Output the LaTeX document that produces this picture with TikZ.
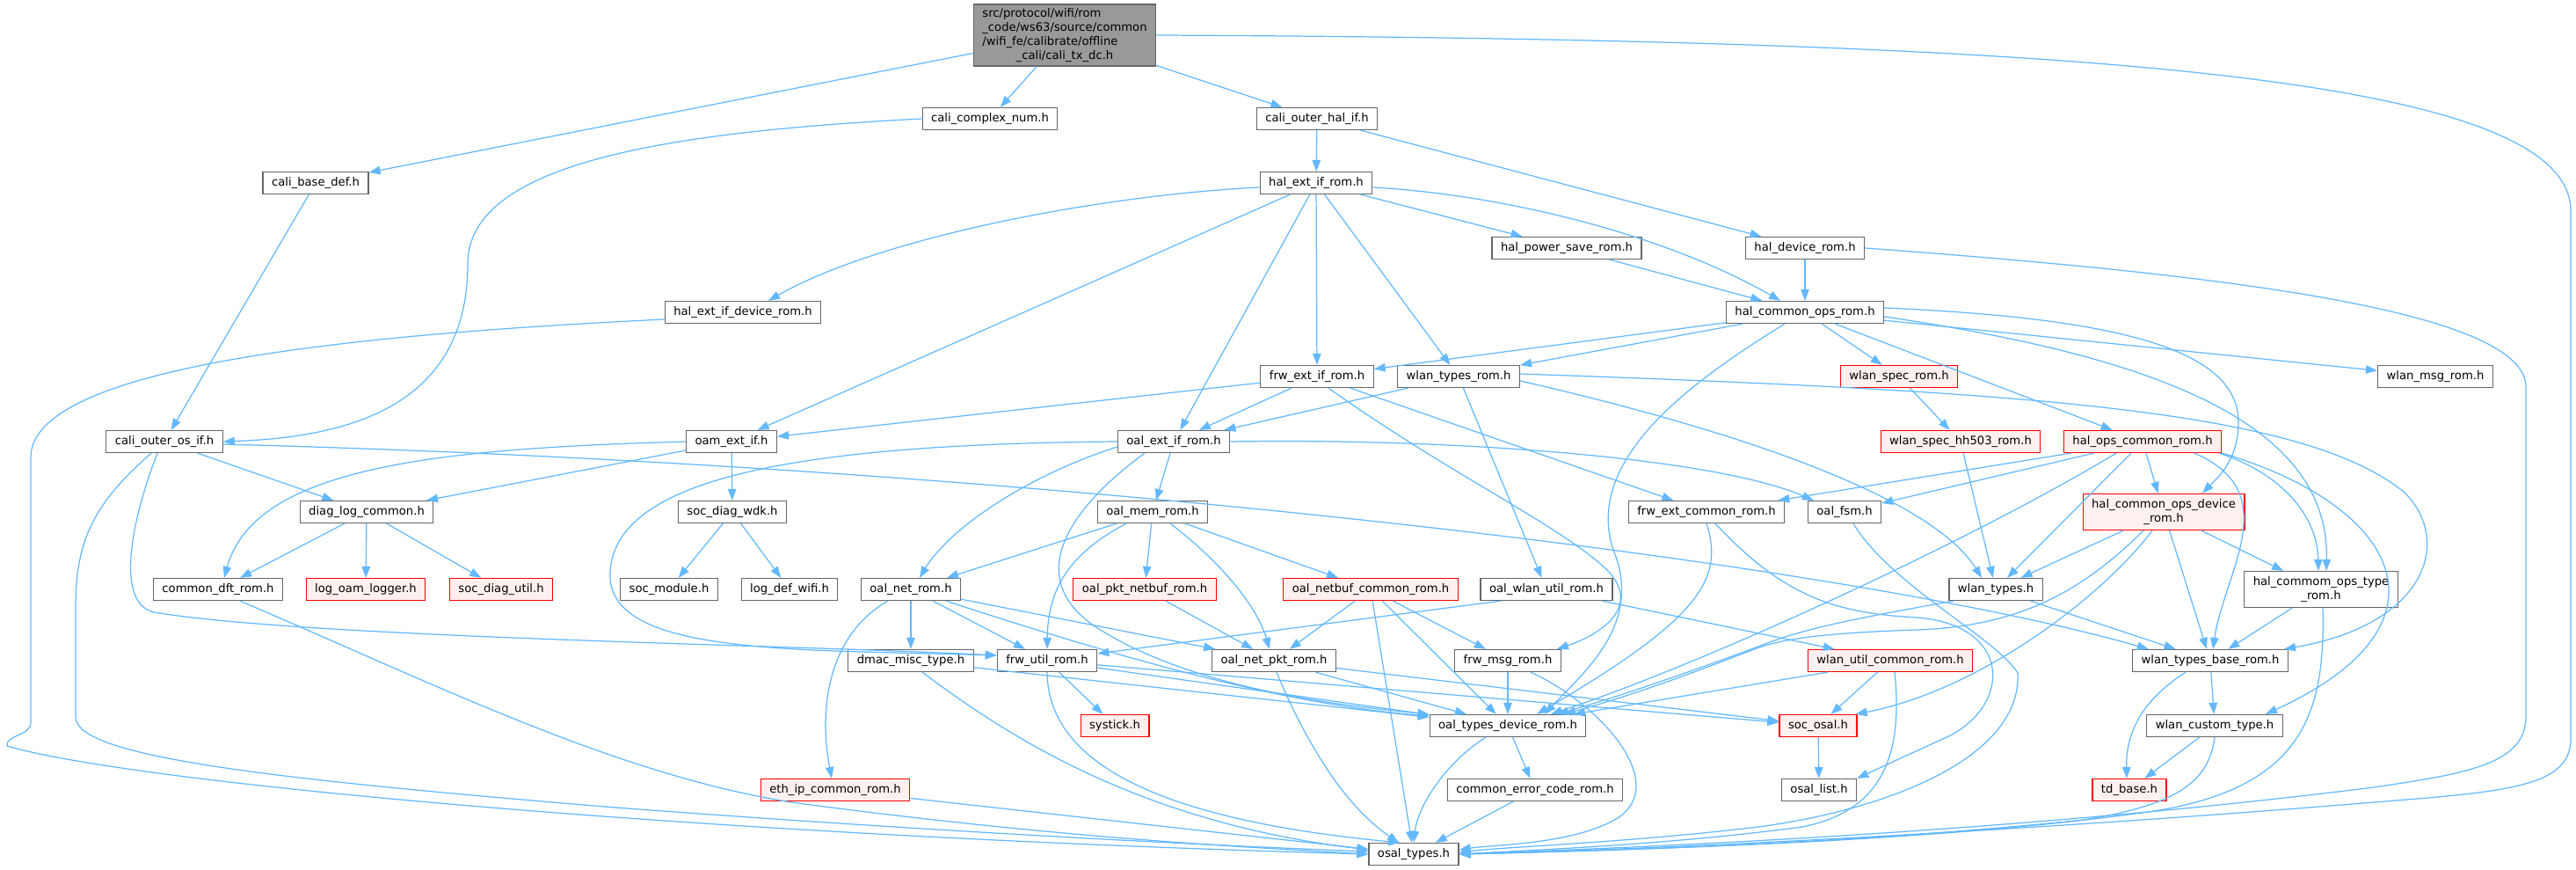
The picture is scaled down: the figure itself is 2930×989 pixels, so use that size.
\documentclass[tikz,border=0pt]{standalone}
\usepackage{fontspec}
\setmainfont{DejaVu Sans}
\usetikzlibrary{arrows.meta}
\definecolor{inclblue}{HTML}{63B8FF}
\definecolor{boxgray}{HTML}{666666}
\definecolor{rootfill}{HTML}{999999}
\definecolor{redfill}{HTML}{FFF0F0}
\tikzset{
  hdr/.style={draw=boxgray, fill=white, line width=0.7pt, inner xsep=0.2cm, inner ysep=0.06cm, minimum height=0.5cm, font=\fontsize{7.5pt}{9.1pt}\selectfont},
  hdrred/.style={hdr, draw=red, fill=redfill},
  hdrroot/.style={hdr, fill=rootfill},
  incl/.style={draw=inclblue, line width=0.7pt, -{Triangle[length=0.26cm,width=0.19cm]}}
}

\begin{document}
\begin{tikzpicture}[x=0.02cm, y=-0.02cm]
			%%%%% START %%%%%
			\useasboundingbox (0,0) rectangle (2930,989);
			
			\node[hdrroot] (root) at (1211,40) {\begin{tabular}{@{}l@{}}src/protocol/wifi/rom\\\_code/ws63/source/common\\/wifi\_fe/calibrate/offline\\\multicolumn{1}{@{}c@{}}{\_cali/cali\_tx\_dc.h}\end{tabular}};
			
			\node[hdr] (basedef) at (359,208) {cali\_base\_def.h};
			\node[hdr] (complexnum) at (1126,135) {cali\_complex\_num.h};
			\node[hdr] (outerhal) at (1498,135) {cali\_outer\_hal\_if.h};
			\node[hdr] (outeros) at (187,502) {cali\_outer\_os\_if.h};
			\node[hdr] (halext) at (1497,208) {hal\_ext\_if\_rom.h};
			\node[hdr] (halps) at (1782,282) {hal\_power\_save\_rom.h};
			\node[hdr] (haldev) at (2053,282) {hal\_device\_rom.h};
			\node[hdr] (halextdev) at (845,355) {hal\_ext\_if\_device\_rom.h};
			\node[hdr] (halcommon) at (2053,355) {hal\_common\_ops\_rom.h};
			\node[hdr] (frwext) at (1498,428) {frw\_ext\_if\_rom.h};
			\node[hdr] (wlantypesrom) at (1659,428) {wlan\_types\_rom.h};
			\node[hdrred] (wlanspec) at (2160,428) {wlan\_spec\_rom.h};
			\node[hdr] (wlanmsg) at (2770,428) {wlan\_msg\_rom.h};
			\node[hdr] (oamext) at (832,502) {oam\_ext\_if.h};
			\node[hdr] (oalext) at (1335,502) {oal\_ext\_if\_rom.h};
			\node[hdrred] (spechh) at (2230,502) {wlan\_spec\_hh503\_rom.h};
			\node[hdrred] (halops) at (2437,502) {hal\_ops\_common\_rom.h};
			\node[hdr] (diaglog) at (417,582) {diag\_log\_common.h};
			\node[hdr] (socwdk) at (833,582) {soc\_diag\_wdk.h};
			\node[hdr] (oalmem) at (1311,582) {oal\_mem\_rom.h};
			\node[hdr] (frwextcommon) at (1941,582) {frw\_ext\_common\_rom.h};
			\node[hdr] (oalfsm) at (2098,582) {oal\_fsm.h};
			\node[hdrred, minimum height=0.82cm, align=center] (halopsdev) at (2461,582) {hal\_common\_ops\_device\\\_rom.h};
			\node[hdr] (dftrom) at (248,670) {common\_dft\_rom.h};
			\node[hdrred] (oamlogger) at (416,670) {log\_oam\_logger.h};
			\node[hdrred] (socdiagutil) at (570,670) {soc\_diag\_util.h};
			\node[hdr] (socmodule) at (761,670) {soc\_module.h};
			\node[hdr] (logdefwifi) at (898,670) {log\_def\_wifi.h};
			\node[hdr] (oalnet) at (1036,670) {oal\_net\_rom.h};
			\node[hdrred] (oalpktnetbuf) at (1302,670) {oal\_pkt\_netbuf\_rom.h};
			\node[hdrred] (oalnetbuf) at (1559,670) {oal\_netbuf\_common\_rom.h};
			\node[hdr] (oalwlanutil) at (1759,670) {oal\_wlan\_util\_rom.h};
			\node[hdr] (wlantypes) at (2270,670) {wlan\_types.h};
			\node[hdr, minimum height=0.82cm, align=center] (halopstype) at (2640,670) {hal\_commom\_ops\_type\\\_rom.h};
			\node[hdr] (dmacmisc) at (1036,751) {dmac\_misc\_type.h};
			\node[hdr] (frwutil) at (1191,751) {frw\_util\_rom.h};
			\node[hdr] (oalnetpkt) at (1449,751) {oal\_net\_pkt\_rom.h};
			\node[hdr] (frwmsg) at (1715,751) {frw\_msg\_rom.h};
			\node[hdrred] (wlanutilcommon) at (2150,751) {wlan\_util\_common\_rom.h};
			\node[hdr] (wlanbase) at (2514,751) {wlan\_types\_base\_rom.h};
			\node[hdrred] (systick) at (1268,825) {systick.h};
			\node[hdr] (oaltypesdev) at (1715,825) {oal\_types\_device\_rom.h};
			\node[hdrred] (socosal) at (2068,825) {soc\_osal.h};
			\node[hdr] (wlancustom) at (2519,825) {wlan\_custom\_type.h};
			\node[hdrred] (ethip) at (950,898) {eth\_ip\_common\_rom.h};
			\node[hdr] (commonerr) at (1746,898) {common\_error\_code\_rom.h};
			\node[hdr] (osallist) at (2069,898) {osal\_list.h};
			\node[hdrred] (tdbase) at (2422,898) {td\_base.h};
			\node[hdr] (osaltypes) at (1608,971) {osal\_types.h};
			
			\draw[incl] (root) -- (basedef);
			\draw[incl] (root) -- (complexnum);
			\draw[incl] (root) -- (outerhal);
			\draw[incl] (root.east) .. controls (2400,45) and (2924,90) .. (2924,240) -- (2924,840) .. controls (2924,895) and (2850,900) .. (2700,912) .. controls (2300,945) and (1900,965) .. (osaltypes.east);
			
			\draw[incl] (basedef) -- (outeros);
			\draw[incl] (complexnum.west) .. controls (760,150) and (532,185) .. (532,300) .. controls (532,460) and (400,497) .. (outeros.east);
			\draw[incl] (outerhal) -- (halext);
			\draw[incl] (outerhal) -- (haldev);
			
			\draw[incl] (halext) -- (oamext);
			\draw[incl] (halext) -- (oalext);
			\draw[incl] (halext) -- (frwext);
			\draw[incl] (halext) -- (wlantypesrom);
			\draw[incl] (halext) -- (halps);
			\draw[incl] ([yshift=-0.1cm]halext.west) .. controls (1250,222) and (1000,270) .. ([xshift=0.58cm]halextdev.north);
			\draw[incl] ([yshift=-0.1cm]halext.east) .. controls (1720,222) and (1900,270) .. ([xshift=-0.56cm]halcommon.north);
			\draw[incl] (halps) -- (halcommon);
			\draw[incl] (haldev) -- (halcommon);
			\draw[incl] (haldev.east) .. controls (2500,310) and (2873,350) .. (2873,440) -- (2873,815) .. controls (2873,870) and (2800,880) .. (2700,895) .. controls (2300,945) and (1900,962) .. (osaltypes.east);
			\draw[incl] ([yshift=-0.16cm]halextdev.west) .. controls (450,378) and (35,410) .. (35,520) -- (35,822) .. controls (35,836) and (6,836) .. (8,848) .. controls (150,890) and (800,950) .. (osaltypes.west);
			
			\draw[incl] (halcommon) -- (frwext);
			\draw[incl] (halcommon) -- (wlantypesrom);
			\draw[incl] (halcommon) -- (wlanspec);
			\draw[incl] (halcommon) -- (wlanmsg);
			\draw[incl] (halcommon) -- (halops);
			\draw[incl] ([yshift=0.1cm]halcommon.east) .. controls (2420,362) and (2546,400) .. (2546,480) .. controls (2546,525) and (2520,545) .. ([xshift=0.88cm]halopsdev.north);
			\draw[incl] ([yshift=-0.1cm]halcommon.east) .. controls (2450,405) and (2650,480) .. ([xshift=0.12cm]halopstype.north);
			\draw[incl] ([xshift=-0.46cm]halcommon.south) .. controls (1930,430) and (1800,520) .. (1835,625) .. controls (1870,710) and (1800,765) .. ([xshift=0.84cm]oaltypesdev.north);
			
			\draw[incl] (outeros) -- (diaglog);
			\draw[incl] ([xshift=-0.3cm]outeros.south) .. controls (110,570) and (86,610) .. (86,690) -- (86,815) .. controls (86,860) and (300,885) .. (700,918) .. controls (1100,948) and (1400,962) .. ([yshift=0.06cm]osaltypes.west);
			\draw[incl] ([xshift=-0.16cm]outeros.south) .. controls (150,590) and (130,685) .. (175,696) .. controls (350,725) and (900,733) .. ([yshift=0.12cm]frwutil.west);
			\draw[incl] ([yshift=-0.06cm]outeros.east) .. controls (1200,530) and (2100,640) .. ([xshift=0.38cm]wlanbase.north west);
			
			\draw[incl] (oamext) -- (diaglog);
			\draw[incl] (oamext) -- (socwdk);
			\draw[incl] (oamext.west) .. controls (500,510) and (290,530) .. ([xshift=0.14cm]dftrom.north);
			\draw[incl] (diaglog) -- (dftrom);
			\draw[incl] (diaglog) -- (oamlogger);
			\draw[incl] (diaglog) -- (socdiagutil);
			\draw[incl] (socwdk) -- (socmodule);
			\draw[incl] (socwdk) -- (logdefwifi);
			\draw[incl] ([xshift=0.5cm]dftrom.south) .. controls (500,780) and (700,880) .. (900,912) .. controls (1200,952) and (1400,962) .. (osaltypes.west);
			
			\draw[incl] (frwext) -- (oamext);
			\draw[incl] (frwext) -- (oalext);
			\draw[incl] (frwext) -- (frwextcommon);
			\draw[incl] ([xshift=0.26cm]frwext.south) .. controls (1650,540) and (1780,600) .. (1830,650) .. controls (1870,695) and (1810,725) .. ([xshift=-0.1cm]frwmsg.north east);
			
			\draw[incl] (wlantypesrom) -- (oalext);
			\draw[incl] (wlantypesrom) -- (oalwlanutil);
			\draw[incl] ([yshift=-0.1cm]wlantypesrom.east) .. controls (2000,495) and (2200,570) .. ([xshift=-0.32cm]wlantypes.north);
			\draw[incl] ([yshift=0.06cm]wlantypesrom.east) .. controls (2300,445) and (2620,465) .. (2735,560) .. controls (2790,615) and (2760,710) .. ([xshift=-0.1cm]wlanbase.north east);
			\draw[incl] (wlanspec) -- (spechh);
			\draw[incl] (spechh) -- (wlantypes);
			
			\draw[incl] (halops) -- (frwextcommon);
			\draw[incl] (halops) -- (oalfsm);
			\draw[incl] (halops) -- (wlantypes);
			\draw[incl] (halops) -- (halopsdev);
			\draw[incl] ([xshift=-0.6cm]halops.south) .. controls (2250,610) and (1950,750) .. ([xshift=0.98cm]oaltypesdev.north);
			\draw[incl] ([xshift=1.18cm]halops.south) .. controls (2600,560) and (2530,650) .. ([xshift=0.06cm]wlanbase.north);
			\draw[incl] ([xshift=1.74cm]halops.south) .. controls (2600,540) and (2636,590) .. ([xshift=-0.06cm]halopstype.north);
			\draw[incl] (halops.south east) .. controls (2730,575) and (2800,710) .. ([xshift=1.16cm]wlancustom.north);
			
			\draw[incl] (oalext) -- (oalmem);
			\draw[incl] ([yshift=-0.12cm]oalext.west) .. controls (1170,540) and (1080,600) .. ([xshift=0.2cm]oalnet.north);
			\draw[incl] (oalext.west) .. controls (900,505) and (700,545) .. (694,650) .. controls (688,745) and (900,738) .. ([yshift=0.12cm]frwutil.west);
			\draw[incl] ([xshift=-0.66cm]oalext.south) .. controls (1200,590) and (1170,665) .. (1250,715) .. controls (1350,778) and (1500,800) .. (oaltypesdev.north west);
			\draw[incl] (oalext.east) .. controls (1650,498) and (1950,520) .. ([xshift=0.14cm]oalfsm.north west);
			
			\draw[incl] (oalmem) -- (oalnet);
			\draw[incl] (oalmem) -- (oalpktnetbuf);
			\draw[incl] (oalmem) -- (oalnetbuf);
			\draw[incl] ([xshift=-0.6cm]oalmem.south) .. controls (1215,630) and (1192,670) .. (frwutil.north);
			\draw[incl] ([xshift=0.4cm]oalmem.south) .. controls (1390,640) and (1430,690) .. ([xshift=-0.1cm]oalnetpkt.north);
			
			\draw[incl] (oalnet) -- (dmacmisc);
			\draw[incl] (oalnet) -- (frwutil);
			\draw[incl] (oalnet) -- (oalnetpkt);
			\draw[incl] ([xshift=0.8cm]oalnet.south) .. controls (1250,740) and (1450,800) .. ([yshift=-0.04cm]oaltypesdev.north west);
			\draw[incl] ([xshift=-0.52cm]oalnet.south) .. controls (945,720) and (930,800) .. ([xshift=-0.08cm]ethip.north);
			\draw[incl] (oalpktnetbuf) -- (oalnetpkt);
			\draw[incl] (oalnetbuf) -- (oalnetpkt);
			\draw[incl] (oalnetbuf) -- (osaltypes);
			\draw[incl] (oalnetbuf) -- (oaltypesdev);
			\draw[incl] (oalnetbuf) -- (frwmsg);
			\draw[incl] ([xshift=-1.04cm]oalwlanutil.south) -- ([yshift=0.16cm]frwutil.east);
			\draw[incl] (oalwlanutil) -- (wlanutilcommon);
			
			\draw[incl] (frwextcommon.south) .. controls (1962,660) and (1930,705) .. ([xshift=0.66cm]oaltypesdev.north);
			\draw[incl] ([xshift=0.2cm]frwextcommon.south) .. controls (2030,680) and (2090,697) .. (2180,702) .. controls (2290,710) and (2290,805) .. (2210,840) .. controls (2170,858) and (2140,872) .. (osallist.north east);
			\draw[incl] ([xshift=0.2cm]oalfsm.south) .. controls (2150,665) and (2270,725) .. (2295,765) .. controls (2300,860) and (2150,920) .. (2000,940) .. controls (1850,958) and (1720,962) .. ([yshift=0.04cm]osaltypes.east);
			
			\draw[incl] (halopsdev) -- (wlantypes);
			\draw[incl] (halopsdev) -- (wlanbase);
			\draw[incl] (halopsdev) -- (halopstype);
			\draw[incl] ([xshift=-0.46cm]halopsdev.south) .. controls (2370,670) and (2300,712) .. (2180,716) .. controls (2060,720) and (2020,728) .. (1990,740) .. controls (1900,775) and (1840,795) .. ([xshift=1.28cm]oaltypesdev.north);
			\draw[incl] ([xshift=-0.26cm]halopsdev.south) .. controls (2390,680) and (2250,785) .. ([xshift=-0.04cm]socosal.north east);
			\draw[incl] (wlantypes) -- (wlanbase);
			\draw[incl] ([xshift=-0.96cm]wlantypes.south) .. controls (2100,705) and (2050,715) .. (2000,735) .. controls (1900,772) and (1830,795) .. ([xshift=1.12cm]oaltypesdev.north);
			\draw[incl] (halopstype) -- (wlanbase);
			\draw[incl] ([xshift=0.04cm]halopstype.south) .. controls (2645,810) and (2620,895) .. (2450,922) .. controls (2200,958) and (1850,966) .. (osaltypes.east);
			
			\draw[incl] (dmacmisc) -- (oaltypesdev);
			\draw[incl] ([xshift=0.26cm]dmacmisc.south) .. controls (1150,840) and (1300,935) .. ([yshift=0.1cm]osaltypes.west);
			\draw[incl] (frwutil) -- (systick);
			\draw[incl] (frwutil) -- (oaltypesdev);
			\draw[incl] (frwutil) -- (socosal);
			\draw[incl] (frwutil.south) .. controls (1192,860) and (1300,930) .. ([xshift=-0.32cm]osaltypes.north);
			\draw[incl] (oalnetpkt) -- (socosal);
			\draw[incl] (oalnetpkt) -- (oaltypesdev);
			\draw[incl] ([xshift=0.06cm]oalnetpkt.south) .. controls (1475,820) and (1520,910) .. ([xshift=-0.34cm]osaltypes.north);
			\draw[incl] (frwmsg) -- (oaltypesdev);
			\draw[incl] ([xshift=0.52cm]frwmsg.south) .. controls (1820,800) and (1900,890) .. (1840,930) .. controls (1790,960) and (1700,960) .. ([yshift=0.1cm]osaltypes.east);
			
			\draw[incl] ([xshift=-1.42cm]wlanutilcommon.south) -- ([xshift=1.5cm]oaltypesdev.north);
			\draw[incl] (wlanutilcommon) -- (socosal);
			\draw[incl] ([xshift=0.1cm]wlanutilcommon.south) .. controls (2165,860) and (2140,922) .. (2050,940) .. controls (1900,960) and (1750,966) .. (osaltypes.east);
			\draw[incl] (wlanbase) -- (wlancustom);
			\draw[incl] ([xshift=-0.56cm]wlanbase.south) .. controls (2430,800) and (2418,840) .. ([xshift=-0.06cm]tdbase.north);
			\draw[incl] (wlancustom) -- (tdbase);
			\draw[incl] (wlancustom.south) .. controls (2512,890) and (2475,915) .. (2370,932) .. controls (2100,960) and (1800,968) .. (osaltypes.east);
			
			\draw[incl] (socosal) -- (osallist);
			\draw[incl] (oaltypesdev) -- (commonerr);
			\draw[incl] ([xshift=-0.5cm]oaltypesdev.south) .. controls (1640,870) and (1612,920) .. (osaltypes.north);
			\draw[incl] (commonerr) -- (osaltypes);
			\draw[incl] (ethip) -- (osaltypes);
			%%%%% END %%%%%
\end{tikzpicture}
\end{document}
